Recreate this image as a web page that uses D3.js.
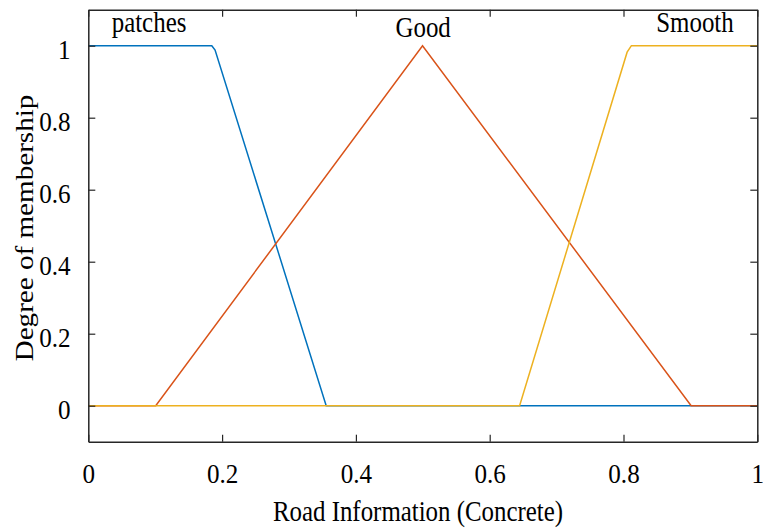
<!DOCTYPE html>
<html>
<head>
<meta charset="utf-8">
<script src="https://cdn.jsdelivr.net/npm/d3@7"></script>
<style>
  body { margin: 0; background: #fff; }
  text { font-family: "Liberation Serif", "Times New Roman", serif; fill: #000; }
</style>
</head>
<body>
<div id="chart"></div>
<script>
// membership function break points
var patchesX = [0, 0.1846, 0.1895, 0.3556, 1];
var patchesY = [1, 1, 0.988, 0, 0];
var goodX = [0, 0.1008, 0.4996, 0.9011, 1];
var goodY = [0, 0, 1, 0, 0];
var smoothX = [0, 0.6447, 0.8054, 0.8118, 1];
var smoothY = [0, 0, 0.982, 1, 1];

var labelNames = ["patches", "Good", "Smooth"];
var labelX = [0.0908, 0.5005, 0.9068];
var labelY = [1.039, 1.023, 1.039];

var xTicks = [0, 0.2, 0.4, 0.6, 0.8, 1];
var yTicks = [0, 0.2, 0.4, 0.6, 0.8, 1];

var margin = { top: 9.7, right: 5.7, bottom: 87.3, left: 88.3 },
  width = 763 - margin.left - margin.right,
  height = 529 - margin.top - margin.bottom;

var svg = d3.select("#chart")
  .append("svg")
  .attr("width", 763)
  .attr("height", 529);

var chart = svg.append("g")
  .attr("transform", "translate(" + margin.left + "," + margin.top + ")");

var x = d3.scaleLinear().domain([0, 1]).range([0, width]);
var y = d3.scaleLinear().domain([-0.1, 1.1]).range([height, 0]);

var fmt = function (d) { return d3.format("~g")(d); };

// curves: blue, red, yellow in that drawing order
var series = [
  { xs: patchesX, ys: patchesY, color: "#0072BD" },
  { xs: goodX, ys: goodY, color: "#D95319" },
  { xs: smoothX, ys: smoothY, color: "#EDB120" }
];
var line = d3.line()
  .x(function (d) { return x(d[0]); })
  .y(function (d) { return y(d[1]); });

series.forEach(function (s) {
  chart.append("path")
    .datum(d3.zip(s.xs, s.ys))
    .attr("fill", "none")
    .attr("stroke", s.color)
    .attr("stroke-width", 1.5)
    .attr("d", line);
});

// axes with inward ticks on all four sides
var axisColor = "#262626";
var axBottom = chart.append("g")
  .attr("transform", "translate(0," + height + ")")
  .call(d3.axisBottom(x).tickValues(xTicks).tickFormat(fmt).tickSizeInner(-7).tickSizeOuter(0).tickPadding(22));
var axLeft = chart.append("g")
  .call(d3.axisLeft(y).tickValues(yTicks).tickFormat(fmt).tickSizeInner(-7).tickSizeOuter(0).tickPadding(19));
var axTop = chart.append("g")
  .call(d3.axisTop(x).tickValues(xTicks).tickFormat("").tickSizeInner(-7).tickSizeOuter(0));
var axRight = chart.append("g")
  .attr("transform", "translate(" + width + ",0)")
  .call(d3.axisRight(y).tickValues(yTicks).tickFormat("").tickSizeInner(-7).tickSizeOuter(0));

[axBottom, axLeft, axTop, axRight].forEach(function (a) {
  a.attr("font-family", null);
  a.select(".domain").attr("stroke", axisColor).attr("stroke-width", 1.5);
  a.selectAll(".tick line").attr("stroke", axisColor).attr("stroke-width", 1.2);
});

axBottom.selectAll(".tick text")
  .attr("font-size", 27)
  .attr("fill", "#000")
  .attr("dy", "0.71em")
  .attr("transform", "scale(0.93,1)");
axLeft.selectAll(".tick text")
  .attr("font-size", 27)
  .attr("fill", "#000")
  .attr("dy", "0.46em")
  .attr("transform", "scale(0.93,1)");

// curve names
labelNames.forEach(function (name, i) {
  chart.append("text")
    .attr("transform", "translate(" + x(labelX[i]) + "," + y(labelY[i]) + ") scale(0.86,1)")
    .attr("text-anchor", "middle")
    .attr("font-size", 29)
    .text(name);
});

// axis titles
svg.append("text")
  .attr("transform", "translate(418,521) scale(0.83,1)")
  .attr("text-anchor", "middle")
  .attr("font-size", 30)
  .text("Road Information (Concrete)");

svg.append("text")
  .attr("transform", "translate(33,228) rotate(-90) scale(1.12,1)")
  .attr("text-anchor", "middle")
  .attr("font-size", 26)
  .text("Degree of membership");
</script>
</body>
</html>
